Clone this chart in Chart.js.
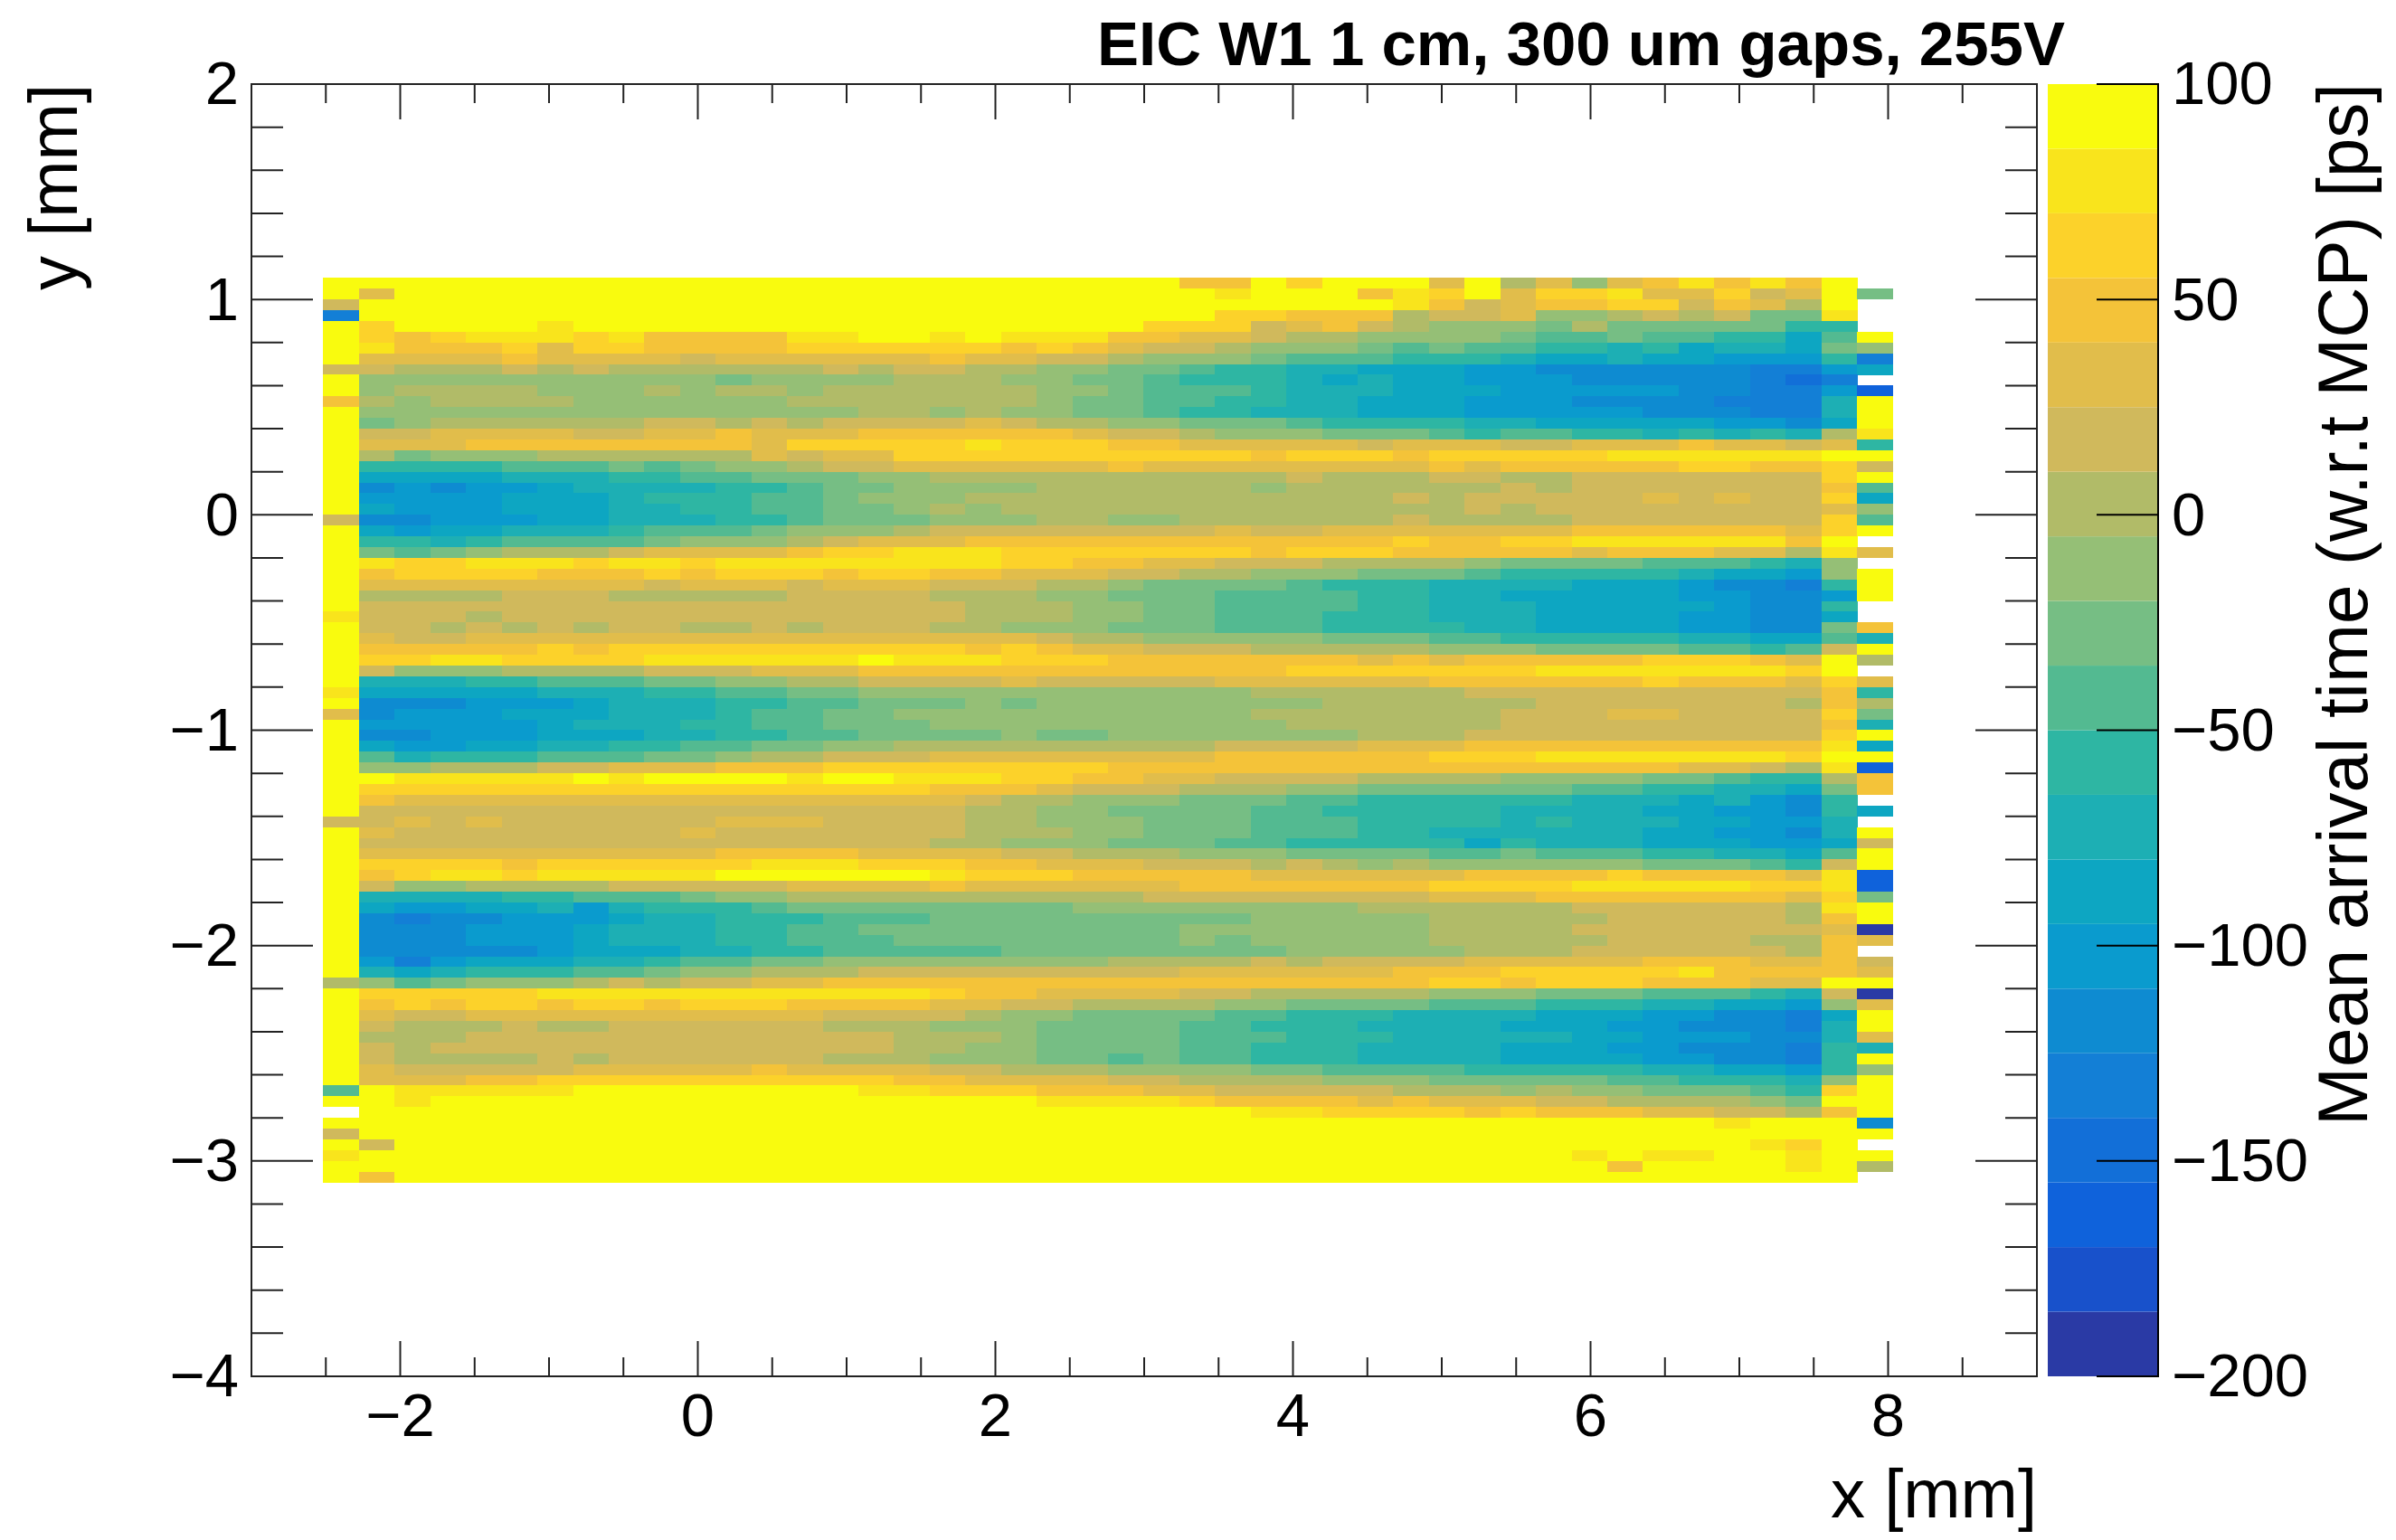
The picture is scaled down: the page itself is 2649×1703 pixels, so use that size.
<!DOCTYPE html>
<html>
<head>
<meta charset="utf-8">
<title>EIC W1 1 cm, 300 um gaps, 255V</title>
<script src="https://cdn.jsdelivr.net/npm/chart.js@4"></script>
<style>
    html, body { margin: 0; padding: 0; background: #fff; }
    canvas { display: block; }
</style>
</head>
<body>
<canvas id="chart-arrival-map" width="2649" height="1703"></canvas>
<script>
// --- DATA ---
const chartTitle = 'EIC W1 1 cm, 300 um gaps, 255V';
const xTitle = 'x [mm]';
const yTitle = 'y [mm]';
const zTitle = 'Mean arrival time (w.r.t MCP) [ps]';

const xRange = [-3, 9];
const yRange = [-4, 2];
const zRange = [-200, 100];
const xMajorTicks = [-2, 0, 2, 4, 6, 8];
const yMajorTicks = [-4, -3, -2, -1, 0, 1, 2];
const zMajorTicks = [-200, -150, -100, -50, 0, 50, 100];

// histogram binning
const xFirstEdge = -2.515;
const xBinWidth = 0.2397;
const yTopEdge = 1.1;
const yBinWidth = 0.05;

// colour contours, lowest first
const zBandEdges = [-200, -185, -170, -155, -140, -125, -110, -95, -80, -65, -50, -35, -20, -5, 10, 25, 40, 55, 70, 85, 100];
const bandCentres = [-192.5, -177.5, -162.5, -147.5, -132.5, -117.5, -102.5, -87.5, -72.5, -57.5, -42.5, -27.5, -12.5, 2.5, 17.5, 32.5, 47.5, 62.5, 77.5, 92.5];
const bandColors = ['#2a3aa5', '#1851cb', '#0f62db', '#126fd8', '#137fd6', '#0e8bd1', '#0a9bce', '#0da6c2', '#1dafb4', '#2eb6a3',
    '#53ba91', '#76be84', '#95bf76', '#b1bb68', '#d0b95c', '#e1bd4b', '#f4c339', '#fcd22a', '#f9e41c', '#f9fb0e'];

// One string per y bin, top to bottom, one letter per x bin. The letter is the
// index into bandCentres (a = first, t = last), '.' is an empty bin.
const timeRows = [
    'ttttttttttttttt tttttttttqqtrtttp tnpmpqsqsqt.',
    'tpttttttttttttt ttttttttttstttqsr tprrspproptl',
    'otttttttttttttt tttttttttttttttsq opqqrroqpnt.',
    'etttttttttttttt ttttttttttrrqqqno opmmnonolls.',
    'trttttstttttttt ttttttttrrropqonm mmlnllllljj.',
    'trqrsssrsqqqqss ttstsssqqpponnmmm mlkklkkjjhkt',
    'tsqqqrprrqqqqrr rrrrqrqpoonmmmlkl kkjjijhiihlm',
    'tppppqppppopppp ppqppoonmmmlkkkjj jihhihhgggje',
    'oonnnononnnnnno noonnmmllkjjiihhh ggffffffeegh',
    'tmmmmmmmmmmlmmm mnnnmmllkjjjihihh gggfffffede.',
    'tmnnnnmmmnmnnmn nnnnnmmlkkkjiiihh hgggggffeegc',
    'qnmnnnnmmmmmmnn nnnnnmllkkjjiihhh gggffffeeeit',
    'tmmmmmmmmmmmmmm nnmnmmllkjjiiihhh gggggfffeeit',
    'tlmnnnnnnoonono oooponnmmlllkjjjj iihhhhhggfht',
    'tooppppooppqppp qqqqqqpoonmmmlllk jkkjjijijins',
    'tpppqqqqqqqqprr rrrsrrrqqpppppopp poopppqppopj',
    'tnlmmmnnnnnnpop prrrrrrrrrrqrrrqr rrrrsssssstt',
    'tjjjjkkklklmmno oppppppqppppppppq pqqqqqrrqqro',
    'thhhhiiijjkklll mmnnnnnnnnnnonnno onnooooooort',
    'tfgfgghiiiijjkl lmmmmnnnnnnmnnnnn nonoooooooqk',
    'tgggghhhijjjkkl mmmnnnnnnnnnnnnon ooooopopoorh',
    'thggghhhiijjkkl lmnmnnnnnnnnnnnnn onoooooooopm',
    'offggghhiiijjkl llmmmnnmmnnnnnnon nnnooooooork',
    'thghhiiijkkklmm mnoooooooopoopppp pppqqqqqqprt',
    'tjjijkkkklmmmno pppqqqqqqqqqqqqrq qrrssssssqt.',
    'tlklmnnnoppppqr rsssrrrrrrrqrrrqq qqqpqqqppnsp',
    'tsrrsssrssrssss ssssrrqqppooonnnn mllllkkkjim.',
    'tqrrrrqqqrqrrrq rrqqpppoonnmmmlll kjjjjjihhgmt',
    'tppppppppopppop ppooonnmllllkjjji iiihhhgffejt',
    'tnnnnooonnnnnoo oonnnmmlllkkkkjji ihhhhhggffgt',
    'toooooooooooooo ooonnnmmllkkkkjji iihhhhhgffj.',
    'sooonoooooooooo ooonnnmmllkkkjjji iihhhhggffh.',
    'toonononoonnono oonnmmmlllkkkjjjj iihhhhggfflq',
    'tpooppppppppppp ppppponnmmmmmlllk kjjjjjiihhki',
    'tqqqqqrqrrrrrrr rrrqrqppooonnnnnm mmllllkkjkot',
    'trrssrrrrssssss tsssrrrqqqqqqqpqp qqqqqrrrqptn',
    'tommmnnnnoooppp qqqqqqqqqqqqrrrrr rrsssssssrt.',
    'tiiijjkkkllmmnn oooopoooooppppppq qqqqqrqqqprp',
    'shhhhhiiijjkkll mmmmmmmmmmmnnnnnn ooooooooooqj',
    'tfffggghiiijjkk lllmlmmmmmmmmnnnn nnooooooonqn',
    'pfggghhhiiijkkl lmmmmmmmmmmnnnnnn noooppoooorl',
    'tggggghiiijjkkl llmmmmmmmmmmnnnnn noooooooooqi',
    'tffggghhhiijjkk llllmllmmmmmmmnnn oooooooooort',
    'thgghhiijjkkllm mnnnnnnnnnooooppp qqqqqqqqqqsh',
    'tkijjjkkkllmnno ooppppppppqqqqqqr rrsssssssrtt',
    'tmmnnnoopppqqqr rrrrrrrqqqqqqqqqq qqqqqqpponsc',
    'ttssssststtttst tsssrrqqppoooonnn nmmmmllkjjnq',
    'trrrrrrrrrrrrrr rrqqqpooonnnmmlll lllkkjjiihlq',
    'tqppppppppppppp ppponnmmmlllkkjjj jjjiiihigfj.',
    'toooooooooooooo ooonnmmllllkkjjjj jiiiihhggfjh',
    'oopopoooooopppo ooonnmmmlllkkkjjj jijiiihhggi.',
    'tpoooooooopoooo ooonnnmmlllkkkjji iiiiihhggfit',
    'toooooooooooooo oonnmmmlllkkjjjjj hjiiihhhggho',
    'tppppppppppqqqq ppppoonnnmmmllllk klkkkjjiihkt',
    'trrrrqrrrrrrsss rrrqqpppooononmnm mmmmmlllkjot',
    'tqrssrssssstttt ttsrrrqqqqqpppppp qqqqrqqqqpsc',
    'tommnnnnooooopp ppqppppppqqqqqqqr rrrsssssrrsc',
    'tiiiijjkkklmmnn nnnnnnnnoooooooop ppqqqqqqqprl',
    'thgghhigijjjkll llllllmmmmmmmmnnn nnnoooooonst',
    'tfeffggghiijjjk kklllllllllmmmmmn nnnnooooonqt',
    'tfffggghiiijjkk lllllllllmmmmmmmn nnnooooooopa',
    'tfffggghiiijjkk kllllllllmlmmmmmn nnnnoooonnqp',
    'tfffffghhhiijjk kkkkllllllllmmmmm nnnoooooonq.',
    'tgeghhhiijkkllm mmmmmmmnnnnonoooo pppppqqqppqo',
    'tihijjjkklmmnnn oooooooooppppppqq qrrrrrsqqqqp',
    'nmklmmmnonooppq qqqqqqqqqqqqqqqqr rqrrrqqqpptt',
    'trrrrrsssssssss ssrqqppppoonnnnnm mmlllkkkjioa',
    'tqrqrrqrrqrrrqq qqppoonnnnmmllllk kkjjjiihhgmp',
    'tpooppppppppppo ooonmmllllkkjjjii iihhhggffeht',
    'tonnnonnoooooon nnmmmllllkkjjjiii ihhhggfffeit',
    'tnnnooooooooooo onnnmllllkkkjjjii iiihhgggffip',
    'tonoooooooooooo onnmmllllkkjjjiii ihhhggfffeji',
    'tonnnnonoooooon nnmmmllklkkjjjiii ihhhhggffejt',
    'tpooooopppppqpp ppoonnnmmmmllkkkk jjjjjiihhgjm',
    'tpppqqrrrrrrrrr rqqppppoonnnnmmml llllkkjjjimt',
    'ktssssstttttttt ssrrrqqqppooooonn nmnmmlllkjrt',
    'ttstttttttttttt tttttssssrqqqqpqp ppoonnnnmltt',
    '.tttttttttttttt tttttttttttssrrrr qrqqqppoonqt',
    'ttttttttttttttt ttttttttttttttttt tttttttstttf',
    'otttttttttttttt ttttttttttttttttt tttttttttttt',
    'tottttttttttttt ttttttttttttttttt ttttttttsrt.',
    'stttttttttttttt ttttttttttttttttt tttstssttstt',
    'ttttttttttttttt ttttttttttttttttt ttttqttttstn',
    'tqttttttttttttt ttttttttttttttttt ttttttttttt.'
];

// --- CELLS ---
const bandCodes = 'abcdefghijklmnopqrst';
const cellPoints = [];
timeRows.forEach((row, j) => {
    [...row.replace(/ /g, '')].forEach((code, i) => {
        if (code === '.') return;
        cellPoints.push({
            x: xFirstEdge + (i + 0.5) * xBinWidth,
            y: yTopEdge - (j + 0.5) * yBinWidth,
            v: bandCentres[bandCodes.indexOf(code)]
        });
    });
});

// scatter points are drawn as one bin-sized sprite per colour band
const cellSprites = {};
function cellSprite(chart, v) {
    const { x, y } = chart.scales;
    const w = Math.ceil(Math.abs(x.getPixelForValue(xBinWidth) - x.getPixelForValue(0)));
    const h = Math.ceil(Math.abs(y.getPixelForValue(yBinWidth) - y.getPixelForValue(0)));
    if (!(w > 0 && h > 0)) return 'rect'; // scales not laid out yet
    if (cellSprites[v]) return cellSprites[v];
    const sprite = document.createElement('canvas');
    sprite.width = w;
    sprite.height = h;
    const c = sprite.getContext('2d');
    c.fillStyle = bandColors[bandCentres.indexOf(v)];
    c.fillRect(0, 0, w, h);
    cellSprites[v] = sprite;
    return sprite;
}

// --- ROOT STYLE FRAME, TICKS, COLOUR BAR ---
const FONT_FAMILY = '"Liberation Sans", Arial, sans-serif';
const FRAME_COLOR = '#222';
const X_TICK = { major: 39, minor: 21 };
const Y_TICK = { major: 68, minor: 35 };

function tickSteps(min, max, step) {
    const out = [];
    const n = Math.round((max - min) / step);
    for (let i = 1; i < n; i++) out.push(min + i * step);
    return out;
}

const rootStylePlugin = {
    id: 'rootStyle',
    afterDatasetsDraw(chart) {
        const { ctx, chartArea: a, scales } = chart;
        const line = (x1, y1, x2, y2) => {
            ctx.beginPath();
            ctx.moveTo(x1, y1);
            ctx.lineTo(x2, y2);
            ctx.stroke();
        };
        ctx.save();

        // colour bar
        const barLeft = a.right + 12;
        const barRight = a.right + 134;
        bandColors.forEach((color, i) => {
            const top = scales.z.getPixelForValue(zBandEdges[i + 1]);
            const bottom = scales.z.getPixelForValue(zBandEdges[i]);
            ctx.fillStyle = color;
            ctx.fillRect(barLeft, top, barRight - barLeft, bottom - top);
        });
        ctx.strokeStyle = '#000';
        ctx.lineWidth = 2;
        line(barRight, a.top - 1, barRight, a.bottom + 1);
        zMajorTicks.forEach(v => {
            const py = scales.z.getPixelForValue(v);
            line(barRight - 68, py, barRight, py);
        });

        // frame and ticks on all four sides
        ctx.strokeStyle = FRAME_COLOR;
        ctx.strokeRect(a.left, a.top, a.right - a.left, a.bottom - a.top);
        tickSteps(xRange[0], xRange[1], 0.5).forEach(v => {
            const px = scales.x.getPixelForValue(v);
            const len = xMajorTicks.includes(v) ? X_TICK.major : X_TICK.minor;
            line(px, a.bottom, px, a.bottom - len);
            line(px, a.top, px, a.top + len);
        });
        tickSteps(yRange[0], yRange[1], 0.2).forEach(v => {
            const py = scales.y.getPixelForValue(v);
            const isMajor = yMajorTicks.some(t => Math.abs(t - v) < 1e-6);
            const len = isMajor ? Y_TICK.major : Y_TICK.minor;
            line(a.left, py, a.left + len, py);
            line(a.right, py, a.right - len, py);
        });

        // texts the axis titles cannot place
        ctx.fillStyle = '#000';
        ctx.textAlign = 'right';
        ctx.textBaseline = 'alphabetic';
        ctx.font = 'bold 69px ' + FONT_FAMILY;
        ctx.fillText(chartTitle, 2283, 72);

        ctx.translate(2617, a.top - 1);
        ctx.rotate(-Math.PI / 2);
        ctx.font = '78px ' + FONT_FAMILY;
        ctx.fillText(zTitle, 0, 0);

        ctx.restore();
    }
};

// --- CHART ---
const minusLabel = v => String(v).replace('-', '\u2212');
const fixedTicks = values => scale => { scale.ticks = values.map(value => ({ value })); };
const tickFont = { family: FONT_FAMILY, size: 67 };
const axisTitleFont = { family: FONT_FAMILY, size: 76, lineHeight: 1 };

new Chart(document.getElementById('chart-arrival-map'), {
    type: 'scatter',
    data: {
        datasets: [{
            label: 'Mean arrival time',
            data: cellPoints,
            showLine: false,
            pointRadius: 20,
            pointBorderWidth: 0,
            pointStyle: ctx => (ctx.raw ? cellSprite(ctx.chart, ctx.raw.v) : 'rect')
        }]
    },
    options: {
        responsive: false,
        animation: false,
        events: [],
        layout: { autoPadding: false, padding: { top: 93 } },
        plugins: { legend: { display: false }, tooltip: { enabled: false }, title: { display: false } },
        scales: {
            x: {
                type: 'linear',
                min: xRange[0],
                max: xRange[1],
                afterBuildTicks: fixedTicks(xMajorTicks),
                afterFit: s => { s.height = 181; },
                grid: { display: false },
                border: { display: false },
                ticks: { color: '#000', font: tickFont, padding: -1, maxRotation: 0, autoSkip: false, callback: minusLabel },
                title: { display: true, text: xTitle, align: 'end', color: '#000', font: axisTitleFont, padding: { top: 0, bottom: 8 } }
            },
            y: {
                type: 'linear',
                min: yRange[0],
                max: yRange[1],
                afterBuildTicks: fixedTicks(yMajorTicks),
                afterFit: s => { s.width = 278; },
                grid: { display: false },
                border: { display: false },
                ticks: { color: '#000', font: tickFont, padding: 6, labelOffset: 4, autoSkip: false, callback: minusLabel },
                title: { display: true, text: yTitle, align: 'end', color: '#000', font: axisTitleFont, padding: { top: 26, bottom: 0 } }
            },
            z: {
                type: 'linear',
                position: 'right',
                min: zRange[0],
                max: zRange[1],
                afterBuildTicks: fixedTicks(zMajorTicks),
                // the big tick padding only moves the labels past the bar, it must not grow the layout
                afterFit: s => { s.width = 397; s.paddingTop = 0; s.paddingBottom = 0; },
                grid: { display: false },
                border: { display: false },
                ticks: { color: '#000', font: tickFont, padding: 141, labelOffset: 4, autoSkip: false, callback: minusLabel }
            }
        }
    },
    plugins: [rootStylePlugin]
});
</script>
</body>
</html>
